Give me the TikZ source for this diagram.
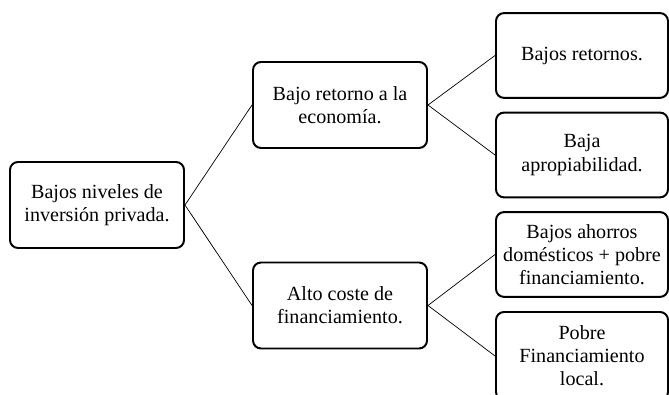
\documentclass[tikz,border=0pt]{standalone}
\usepackage{fontspec}
\setmainfont{Liberation Serif}
\usetikzlibrary{positioning}

\begin{document}
\begin{tikzpicture}[
  caja/.style={draw, line width=1.4pt, rounded corners=0.2cm, align=center,
    minimum width=4.35cm, minimum height=2.15cm, inner sep=2pt,
    font=\fontsize{14.3}{16.4}\selectfont},
  hoja/.style={caja, minimum width=4.3cm, minimum height=2.12cm},
  rama/.style={line width=0.5pt}]
  \useasboundingbox (0,0) rectangle (16.725,9.85);
% Problem
  \node[caja] (raiz) at (2.425,4.725) {Bajos niveles de\\inversión privada.};
% Causes
  \node[caja] (retorno) at (8.5,7.225) {Bajo retorno a la\\economía.};
  \node[caja] (coste) at (8.5,2.2125) {Alto coste de\\financiamiento.};
% Sub-causes
  \node[hoja] (bajos) at (14.55,8.4625) {Bajos retornos.};
  \node[hoja] (apropia) at (14.55,5.975) {Baja\\apropiabilidad.};
  \node[hoja] (ahorros) at (14.55,3.4875) {Bajos ahorros\\domésticos + pobre\\financiamiento.};
  \node[hoja, minimum height=2.2cm] (pobre) at (14.55,0.95) {Pobre\\Financiamiento\\local.};
%
  \draw[rama] (raiz.east) -- (retorno.west);
  \draw[rama] (raiz.east) -- (coste.west);
  \draw[rama] (retorno.east) -- (bajos.west);
  \draw[rama] (retorno.east) -- (apropia.west);
  \draw[rama] (coste.east) -- (ahorros.west);
  \draw[rama] (coste.east) -- (pobre.west);
\end{tikzpicture}
\end{document}
